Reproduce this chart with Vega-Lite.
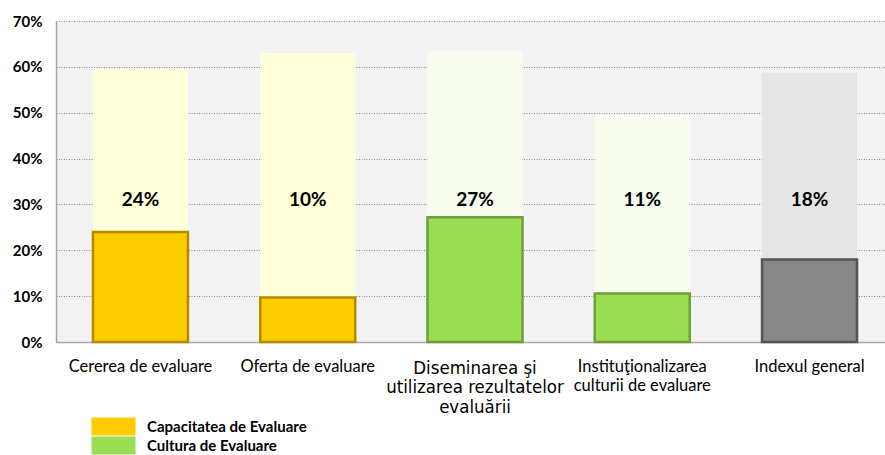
{
  "$schema": "https://vega.github.io/schema/vega-lite/v6.json",
  "width": 829,
  "height": 321,
  "autosize": {"type": "none"},
  "padding": {"left": 56, "top": 21, "right": 0, "bottom": 113},
  "background": "#ffffff",
  "config": {
    "view": {"fill": "#f2f2f2", "stroke": null},
    "font": "Lato"
  },
  "data": {
    "values": [
      {"cat": "Cererea de evaluare", "group": "Capacitatea de Evaluare", "total": 0.596, "value": 0.24, "shown": 0.24},
      {"cat": "Oferta de evaluare", "group": "Capacitatea de Evaluare", "total": 0.63, "value": 0.097, "shown": 0.10},
      {"cat": "Diseminarea şi|utilizarea rezultatelor|evaluării", "group": "Cultura de Evaluare", "total": 0.634, "value": 0.272, "shown": 0.27},
      {"cat": "Instituţionalizarea|culturii de evaluare", "group": "Cultura de Evaluare", "total": 0.495, "value": 0.106, "shown": 0.11},
      {"cat": "Indexul general", "group": "Indexul general", "total": 0.587, "value": 0.18, "shown": 0.18}
    ]
  },
  "encoding": {
    "x": {
      "field": "cat",
      "type": "nominal",
      "sort": null,
      "scale": {"range": [0, 838], "paddingInner": 0.432, "paddingOuter": 0.221},
      "axis": {
        "title": null,
        "labelAngle": 0,
        "labelExpr": "split(datum.label, '|')",
        "labelFont": {"condition": {"test": "indexof(datum.label, 'Diseminarea') >= 0", "value": "Liberation Sans Narrow, DejaVu Sans Condensed, sans-serif"}, "value": "Lato"},
        "labelFontSize": {"condition": {"test": "indexof(datum.label, 'Diseminarea') >= 0", "value": 18.5}, "value": 16.5},
        "labelColor": "#000000",
        "labelBaseline": "top",
        "labelPadding": 16,
        "labelLineHeight": 19.5,
        "labelLimit": 300,
        "ticks": false,
        "domain": true,
        "domainColor": "#a6a6a6",
        "domainWidth": 1.5,
        "grid": false
      }
    }
  },
  "layer": [
    {
      "mark": {"type": "bar"},
      "encoding": {
        "y": {
          "field": "total",
          "type": "quantitative",
          "scale": {"domain": [0, 0.7], "nice": false},
          "axis": {
            "title": null,
            "values": [0, 0.1, 0.2, 0.3, 0.4, 0.5, 0.6, 0.7],
            "format": ".0%",
            "labelFont": "Lato",
            "labelFontWeight": "bold",
            "labelFontSize": 15,
            "labelColor": "#000000",
            "labelPadding": 14,
            "ticks": false,
            "domain": true,
            "domainColor": "#a6a6a6",
            "domainWidth": 1.5,
            "grid": true,
            "gridColor": "#8a8a8a",
            "gridDash": [1, 1.5],
            "gridWidth": 1
          }
        },
        "color": {
          "field": "group",
          "type": "nominal",
          "scale": {
            "domain": ["Capacitatea de Evaluare", "Cultura de Evaluare", "Indexul general"],
            "range": ["#ffffd9", "#f8fcee", "#e5e5e5"]
          },
          "legend": null
        }
      }
    },
    {
      "mark": {"type": "bar"},
      "encoding": {
        "y": {"field": "value", "type": "quantitative"},
        "color": {
          "field": "group",
          "type": "nominal",
          "scale": {
            "domain": ["Capacitatea de Evaluare", "Cultura de Evaluare", "Indexul general"],
            "range": ["#ffcc00", "#9bdd55", "#878787"]
          },
          "legend": {
            "values": ["Capacitatea de Evaluare", "Cultura de Evaluare"],
            "title": null,
            "orient": "none",
            "legendX": 48,
            "legendY": 396,
            "direction": "vertical",
            "symbolType": "M-2.316,-0.947L2.316,-0.947L2.316,0.947L-2.316,0.947Z",
            "symbolSize": 361,
            "symbolStrokeWidth": 0,
            "rowPadding": 0,
            "labelFont": "Lato",
            "labelFontSize": 15,
            "labelFontWeight": "bold",
            "labelColor": "#000000",
            "labelOffset": 24
          }
        }
      }
    },
    {
      "mark": {"type": "bar", "filled": false, "strokeWidth": 2.5},
      "encoding": {
        "y": {"field": "value", "type": "quantitative"},
        "color": {
          "field": "group",
          "type": "nominal",
          "scale": {
            "domain": ["Capacitatea de Evaluare", "Cultura de Evaluare", "Indexul general"],
            "range": ["#b08c00", "#6f9f3a", "#555555"]
          },
          "legend": null
        }
      }
    },
    {
      "mark": {"type": "text", "font": "Lato", "fontWeight": "bold", "fontSize": 19, "color": "#000000", "baseline": "middle"},
      "encoding": {
        "y": {"datum": 0.31, "type": "quantitative"},
        "text": {"field": "shown", "type": "quantitative", "format": ".0%"}
      }
    }
  ],
  "resolve": {"scale": {"color": "independent"}, "legend": {"color": "independent"}}
}
